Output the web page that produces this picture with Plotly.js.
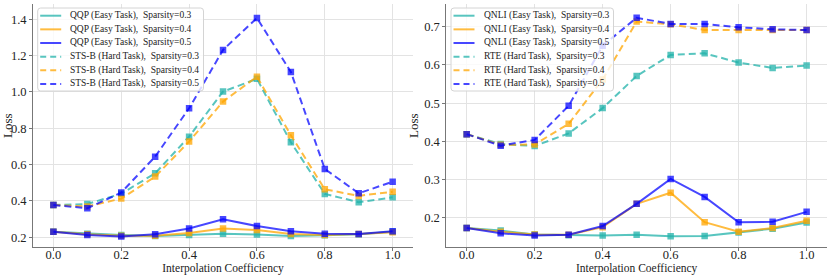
<!DOCTYPE html>
<html><head><meta charset="utf-8">
<script src="https://cdn.plot.ly/plotly-3.0.1.min.js"></script>
<style>html,body{margin:0;padding:0;background:#fff}#chart{width:830px;height:277px}</style>
</head><body><div id="chart"></div>
<script>
const xs = [0.0,0.1,0.2,0.3,0.4,0.5,0.6,0.7,0.8,0.9,1.0];
// Left panel
const qqp03 = [0.231,0.220,0.213,0.207,0.213,0.220,0.215,0.207,0.211,0.217,0.231];
const qqp04 = [0.231,0.217,0.209,0.209,0.224,0.248,0.240,0.218,0.213,0.218,0.228];
const qqp05 = [0.231,0.213,0.204,0.217,0.248,0.299,0.262,0.233,0.220,0.218,0.233];
const stsb03 = [0.378,0.383,0.440,0.552,0.754,1.002,1.072,0.723,0.439,0.393,0.420];
const stsb04 = [0.378,0.370,0.413,0.534,0.727,0.947,1.084,0.762,0.464,0.428,0.451];
const stsb05 = [0.378,0.360,0.446,0.644,0.910,1.231,1.407,1.110,0.576,0.442,0.506];
// Right panel
const qnli03 = [0.174,0.167,0.157,0.155,0.154,0.156,0.152,0.153,0.162,0.172,0.188];
const qnli04 = [0.174,0.164,0.157,0.156,0.176,0.237,0.266,0.189,0.164,0.174,0.193];
const qnli05 = [0.174,0.160,0.154,0.156,0.179,0.237,0.302,0.255,0.189,0.190,0.216];
const rte03 = [0.419,0.393,0.388,0.421,0.487,0.571,0.626,0.630,0.606,0.592,0.598];
const rte04 = [0.419,0.391,0.392,0.446,0.562,0.713,0.706,0.691,0.691,0.691,0.691];
const rte05 = [0.419,0.389,0.404,0.493,0.650,0.723,0.707,0.707,0.698,0.693,0.691];

const xTicks = [0,0.2,0.4,0.6,0.8,1.0];
const yTicksL = [0.2,0.4,0.6,0.8,1.0,1.2,1.4];
const yTicksR = [0.2,0.3,0.4,0.5,0.6,0.7];
const sparsities = ['0.3','0.4','0.5'];
const leftTasks = ['QQP (Easy Task)','STS-B (Hard Task)'];
const rightTasks = ['QNLI (Easy Task)','RTE (Hard Task)'];

const cols = {'0.3':'rgba(32,178,170,0.75)','0.4':'rgba(255,165,0,0.75)','0.5':'rgba(0,0,255,0.72)'};
const SP = ',\u00a0\u00a0Sparsity=';
const DASH = '7px,4px';

function tr(y, name, sp, dashed, xa, ya){
  return {x: xs, y: y, name: name + SP + sp, type:'scatter', mode:'lines+markers',
    xaxis: xa, yaxis: ya, showlegend:false,
    line:{color: cols[sp], width:2, dash: dashed ? DASH : 'solid'},
    marker:{symbol:'square', size:6.5, color: cols[sp], line:{width:0}}};
}
const data = [
  tr(qqp03,leftTasks[0],'0.3',false,'x','y'),
  tr(qqp04,leftTasks[0],'0.4',false,'x','y'),
  tr(qqp05,leftTasks[0],'0.5',false,'x','y'),
  tr(stsb03,leftTasks[1],'0.3',true,'x','y'),
  tr(stsb04,leftTasks[1],'0.4',true,'x','y'),
  tr(stsb05,leftTasks[1],'0.5',true,'x','y'),
  tr(qnli03,rightTasks[0],'0.3',false,'x2','y2'),
  tr(qnli04,rightTasks[0],'0.4',false,'x2','y2'),
  tr(qnli05,rightTasks[0],'0.5',false,'x2','y2'),
  tr(rte03,rightTasks[1],'0.3',true,'x2','y2'),
  tr(rte04,rightTasks[1],'0.4',true,'x2','y2'),
  tr(rte05,rightTasks[1],'0.5',true,'x2','y2')
];

// Custom legends (matplotlib-style compact legend boxes), in pixel -> paper coords
const W = 830, H = 277;
const px = v => v / W, py = v => 1 - v / H;
const shapes = [], annotations = [];
function legendBox(x0, y0, x1, y1, tasks){
  const r = 3;
  const path = `M${px(x0+r)},${py(y0)} L${px(x1-r)},${py(y0)} Q${px(x1)},${py(y0)} ${px(x1)},${py(y0+r)} ` +
    `L${px(x1)},${py(y1-r)} Q${px(x1)},${py(y1)} ${px(x1-r)},${py(y1)} L${px(x0+r)},${py(y1)} ` +
    `Q${px(x0)},${py(y1)} ${px(x0)},${py(y1-r)} L${px(x0)},${py(y0+r)} Q${px(x0)},${py(y0)} ${px(x0+r)},${py(y0)} Z`;
  shapes.push({type:'path', xref:'paper', yref:'paper', path: path, layer:'above',
    fillcolor:'rgba(255,255,255,0.8)', line:{color:'#d4d4d4', width:1}});
  let row = 0;
  tasks.forEach((t, ti) => {
    sparsities.forEach(sp => {
      const yc = y0 + 7.7 + row * 13.65;
      shapes.push({type:'line', xref:'paper', yref:'paper', layer:'above',
        x0: px(x0 + 2.5), x1: px(x0 + 23.5), y0: py(yc), y1: py(yc),
        line:{color: cols[sp], width:2, dash: ti === 1 ? '6px,4px' : 'solid'}});
      annotations.push({xref:'paper', yref:'paper', x: px(x0 + 30.5), y: py(yc),
        xanchor:'left', yanchor:'middle', showarrow:false, text: t + SP + sp,
        font:{size:9.5, color:'#222'}});
      row++;
    });
  });
}
legendBox(37.7, 8, 203.5, 91, leftTasks);
legendBox(451, 8, 613.5, 91, rightTasks);

const font = {family:'"Liberation Serif", "Times New Roman", serif', color:'#222', size:12.5};
function xax(dom, anchor){
  return {domain: dom, anchor: anchor, range:[-0.06,1.06], tickvals:xTicks, tickformat:'.1f',
    showgrid:true, gridcolor:'#e3e3e3', gridwidth:1, zeroline:false,
    showline:true, linecolor:'#777', linewidth:1, ticks:'outside', ticklen:3, tickcolor:'#777',
    ticklabelstandoff:-7,
    tickfont:{size:12.5}, title:{text:'Interpolation Coefficiency', font:{size:11.5}, standoff:2}};
}
function yax(dom, anchor, range, tv){
  return {domain: dom, anchor: anchor, range: range, tickvals: tv, tickformat:'.1f',
    showgrid:true, gridcolor:'#e3e3e3', gridwidth:1, zeroline:false,
    showline:true, linecolor:'#777', linewidth:1, ticks:'outside', ticklen:3, tickcolor:'#777',
    tickfont:{size:12.5}, title:{text:'Loss', font:{size:13}, standoff:2}};
}
const layout = {
  width:W, height:H, margin:{l:0,r:0,t:0,b:0}, paper_bgcolor:'#fff', plot_bgcolor:'#fff',
  font: font, showlegend:false,
  xaxis: xax([0.0398,0.4976],'y'),
  yaxis: yax([0.1072,0.9856],'x',[0.145,1.484],yTicksL),
  xaxis2: xax([0.5377,0.9964],'y2'),
  yaxis2: yax([0.1072,0.9856],'x2',[0.1234,0.759],yTicksR),
  shapes: shapes, annotations: annotations
};
Plotly.newPlot('chart', data, layout, {displayModeBar:false, staticPlot:true});
</script></body></html>
